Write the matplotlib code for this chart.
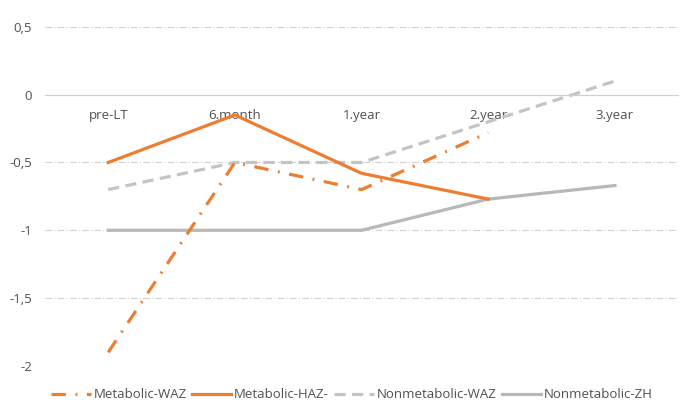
import matplotlib.pyplot as plt
import numpy as np

plt.rcParams['font.family'] = ['Open Sans', 'DejaVu Sans']

categories = ['pre-LT', '6.month', '1.year', '2.year', '3.year']
metabolic_waz = [-1.9, -0.5, -0.7, -0.28]
metabolic_haz = [-0.5, -0.15, -0.58, -0.77]
nonmetabolic_waz = [-0.7, -0.5, -0.5, -0.2, 0.1]
nonmetabolic_zh = [-1.0, -1.0, -1.0, -0.77, -0.67]
yticks = [0.5, 0, -0.5, -1, -1.5, -2]

orange = '#ED7D31'
text_col = '#505050'

fig = plt.figure(figsize=(6.9, 4.13), dpi=100)
ax = fig.add_axes([0.065, 0.114, 0.918, 0.821])

x = np.arange(len(categories))

# gridlines (dash-dot, light)
for v in yticks:
    if v == 0:
        continue
    ax.axhline(v, color='#D0D0D0', lw=0.8, ls=(0, (6, 2, 1, 2)), zorder=0)

ax.plot(x[:len(metabolic_waz)], metabolic_waz, color=orange, lw=2.3,
        ls=(0, (4.5, 3, 0.6, 3)), label='Metabolic-WAZ', zorder=3)
ax.plot(x[:len(metabolic_haz)], metabolic_haz, color=orange, lw=2.3,
        label='Metabolic-HAZ-', zorder=3)
ax.plot(x, nonmetabolic_waz, color='#C4C4C4', lw=2.3, ls=(0, (3.5, 2)),
        label='Nonmetabolic-WAZ', zorder=2)
ax.plot(x, nonmetabolic_zh, color='#B8B8B8', lw=2.3,
        label='Nonmetabolic-ZH', zorder=2)

ax.set_xlim(-0.5, len(categories) - 0.5)
ax.set_ylim(-2, 0.5)

for s in ['top', 'right', 'left']:
    ax.spines[s].set_visible(False)
ax.spines['bottom'].set_position(('data', 0))
ax.spines['bottom'].set_color('#D0D0D0')
ax.spines['bottom'].set_linewidth(0.9)

ax.set_xticks(x)
ax.set_xticklabels(categories)
ax.set_yticks(yticks)
ax.set_yticklabels([str(v).replace('.', ',') for v in yticks])
ax.tick_params(axis='x', length=0, pad=10, labelsize=9.5, labelcolor=text_col)
ax.tick_params(axis='y', length=0, pad=9, labelsize=9.5, labelcolor=text_col)

fig.legend(loc='lower center', bbox_to_anchor=(0.51, 0.0), ncol=4,
           frameon=False, fontsize=9.5, labelcolor=text_col,
           handlelength=3.0, handletextpad=0.2, columnspacing=0.4)

fig.savefig('out.png', dpi=100)
